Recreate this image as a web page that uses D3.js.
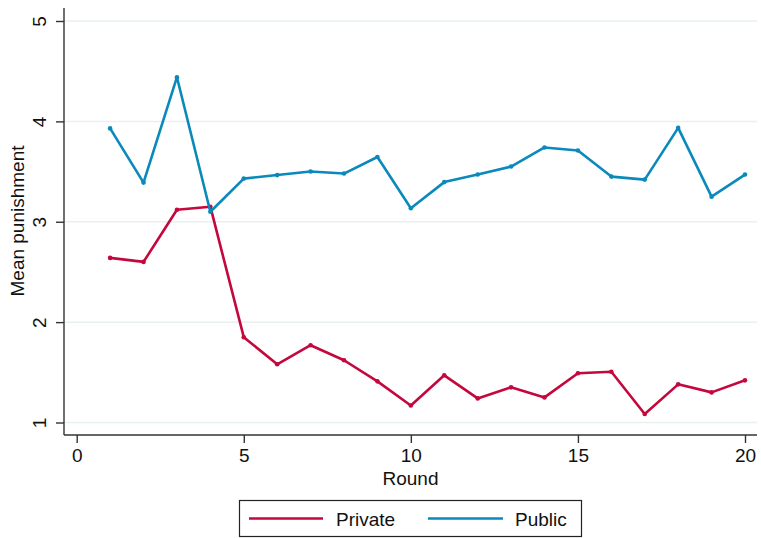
<!DOCTYPE html>
<html>
<head>
<meta charset="utf-8">
<script src="https://cdn.jsdelivr.net/npm/d3@7"></script>
<style>
  html, body { margin: 0; padding: 0; background: #fff; }
  svg { display: block; font-family: "Liberation Sans", Arial, Helvetica, sans-serif; }
</style>
</head>
<body>
<svg id="chart" width="761" height="538"></svg>
<script>
// Mean punishment by round, private vs public condition
const rounds = d3.range(1, 21);
const privateVals = [2.64, 2.60, 3.12, 3.15, 1.85, 1.58, 1.77, 1.62, 1.41, 1.17,
                     1.47, 1.24, 1.35, 1.25, 1.49, 1.505, 1.085, 1.38, 1.30, 1.42];
const publicVals  = [3.93, 3.39, 4.44, 3.10, 3.43, 3.465, 3.50, 3.48, 3.645, 3.135,
                     3.395, 3.47, 3.55, 3.74, 3.71, 3.45, 3.42, 3.935, 3.25, 3.47];
const xTicks = [0, 5, 10, 15, 20];
const yTicks = [1, 2, 3, 4, 5];
const seriesNames = ["Private", "Public"];
const seriesColors = ["#c4073c", "#0a89bb"];

const svg = d3.select("#chart");
const plotLeft = 64, plotRight = 757, plotBottom = 435, plotTop = 8;
const fontSize = 19;

const x = d3.scaleLinear().domain([0, 20]).range([76.7, 745]);
const y = d3.scaleLinear().domain([1, 5]).range([422.5, 21]);

// gridlines
svg.append("g").selectAll("line").data(yTicks).join("line")
  .attr("x1", plotLeft).attr("x2", plotRight)
  .attr("y1", d => y(d)).attr("y2", d => y(d))
  .attr("stroke", "#e8f0f2").attr("stroke-width", 1.5);

// y axis
const yAxis = svg.append("g").attr("transform", `translate(${plotLeft},0)`)
  .call(d3.axisLeft(y).tickValues(yTicks).tickFormat(d3.format("d"))
    .tickSize(8).tickPadding(5).tickSizeOuter(0));
yAxis.select(".domain").attr("d", `M0,${plotTop}V${plotBottom}`);
yAxis.selectAll("path, line").attr("stroke", "#333").attr("stroke-width", 1.4);
yAxis.selectAll("text")
  .attr("font-size", fontSize).attr("fill", "#111")
  .attr("text-anchor", "middle").attr("dy", "0.36em").attr("x", 0)
  .attr("transform", "translate(-25,0) rotate(-90)");

// x axis
const xAxis = svg.append("g").attr("transform", `translate(0,${plotBottom})`)
  .call(d3.axisBottom(x).tickValues(xTicks).tickFormat(d3.format("d"))
    .tickSize(8).tickPadding(6).tickSizeOuter(0));
xAxis.select(".domain").attr("d", `M${plotLeft},0H${plotRight}`);
xAxis.selectAll("path, line").attr("stroke", "#333").attr("stroke-width", 1.4);
xAxis.selectAll("text").attr("font-size", fontSize).attr("fill", "#111")
  .attr("y", 14).attr("dy", "0.71em");

// axis titles
svg.append("text").attr("x", 410.5).attr("y", 485).attr("text-anchor", "middle")
  .attr("font-size", fontSize).attr("fill", "#111").text("Round");
svg.append("text").attr("transform", "translate(23.5,221) rotate(-90)")
  .attr("text-anchor", "middle").attr("font-size", fontSize).attr("fill", "#111")
  .text("Mean punishment");

// lines
const series = [privateVals, publicVals];
const line = d3.line().x((d, i) => x(rounds[i])).y(d => y(d));
series.forEach((vals, s) => {
  svg.append("path").datum(vals)
    .attr("d", line).attr("fill", "none")
    .attr("stroke", seriesColors[s]).attr("stroke-width", 2.6)
    .attr("stroke-linejoin", "round");
  svg.append("g").selectAll("circle").data(vals).join("circle")
    .attr("cx", (d, i) => x(rounds[i])).attr("cy", d => y(d))
    .attr("r", 2.3).attr("fill", seriesColors[s]);
});

// legend
const lg = svg.append("g");
lg.append("rect").attr("x", 239.5).attr("y", 500.5).attr("width", 342).attr("height", 36)
  .attr("fill", "#fff").attr("stroke", "#222").attr("stroke-width", 1.2);
const legendItems = [
  { x1: 249, x2: 323, tx: 336 },
  { x1: 428, x2: 503, tx: 515 }
];
legendItems.forEach((it, i) => {
  lg.append("line").attr("x1", it.x1).attr("x2", it.x2).attr("y1", 518.5).attr("y2", 518.5)
    .attr("stroke", seriesColors[i]).attr("stroke-width", 2.6);
  lg.append("text").attr("x", it.tx).attr("y", 526).attr("font-size", fontSize).attr("fill", "#111")
    .text(seriesNames[i]);
});
</script>
</body>
</html>
